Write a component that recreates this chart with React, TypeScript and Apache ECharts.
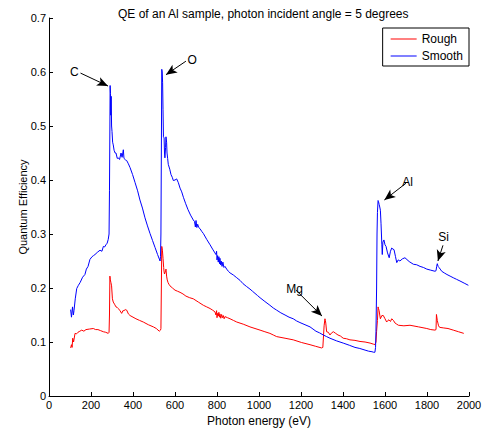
import React, { useEffect, useRef } from "react";
import * as echarts from "echarts";

const xTicks = [0, 200, 400, 600, 800, 1000, 1200, 1400, 1600, 1800, 2000];
const yTicks = [0, 0.1, 0.2, 0.3, 0.4, 0.5, 0.6, 0.7];

const smoothEnergy = [
  103, 107, 112, 116, 119, 125, 132, 140, 148, 160, 171, 178, 186, 195, 205, 212, 219, 230, 243, 252, 259, 265, 271, 277, 282, 286, 288, 290, 291, 293, 294, 296, 298, 300, 303, 306, 310, 315, 319, 325, 330, 336, 343, 348, 354, 357, 360, 365, 370, 378, 386, 398, 410, 422, 433, 445, 457, 469, 481, 493, 505, 517, 529, 531, 533, 535, 537, 539, 541, 543, 545, 548, 550, 552, 555, 557, 560, 562, 565, 568, 575, 581, 587, 592, 600, 608, 616, 624, 632, 640, 651, 662, 674, 687, 693, 697, 700, 704, 708, 713, 719, 727, 735, 751, 767, 779, 790, 795, 798, 800, 803, 806, 809, 812, 814, 817, 820, 824, 828, 833, 838, 846, 854, 862, 878, 894, 910, 924, 940, 957, 969, 981, 993, 1005, 1028, 1052, 1068, 1084, 1104, 1124, 1143, 1163, 1179, 1195, 1219, 1243, 1257, 1271, 1288, 1306, 1322, 1338, 1370, 1401, 1430, 1457, 1480, 1505, 1522, 1538, 1546, 1552, 1555, 1557, 1560, 1562, 1564, 1567, 1569, 1572, 1575, 1578, 1581, 1583, 1585, 1587, 1590, 1595, 1600, 1605, 1612, 1620, 1626, 1632, 1638, 1643, 1650, 1656, 1663, 1671, 1683, 1695, 1715, 1735, 1751, 1767, 1783, 1799, 1818, 1838, 1843, 1846, 1849, 1853, 1857, 1863, 1870, 1882, 1895, 1910, 1925, 1941, 1957, 1977, 1997,
];
const smoothQE = [
  0.16, 0.146, 0.165, 0.15, 0.158, 0.18, 0.199, 0.205, 0.21, 0.22, 0.225, 0.235, 0.24, 0.253, 0.258, 0.26, 0.262, 0.266, 0.27, 0.268, 0.277, 0.276, 0.28, 0.283, 0.29, 0.3, 0.38, 0.5, 0.575, 0.56, 0.52, 0.555, 0.5, 0.49, 0.47, 0.465, 0.455, 0.45, 0.45, 0.44, 0.441, 0.438, 0.45, 0.442, 0.456, 0.44, 0.44, 0.437, 0.436, 0.43, 0.423, 0.41, 0.395, 0.38, 0.363, 0.348, 0.33, 0.315, 0.301, 0.288, 0.275, 0.262, 0.25, 0.258, 0.3, 0.45, 0.605, 0.6, 0.58, 0.53, 0.48, 0.478, 0.45, 0.441, 0.46, 0.48, 0.47, 0.45, 0.44, 0.429, 0.42, 0.41, 0.405, 0.399, 0.4, 0.402, 0.395, 0.385, 0.378, 0.368, 0.356, 0.345, 0.335, 0.326, 0.323, 0.313, 0.325, 0.312, 0.318, 0.312, 0.31, 0.305, 0.301, 0.29, 0.28, 0.272, 0.265, 0.262, 0.268, 0.252, 0.26, 0.248, 0.258, 0.245, 0.255, 0.243, 0.25, 0.24, 0.248, 0.238, 0.24, 0.235, 0.231, 0.228, 0.224, 0.219, 0.214, 0.208, 0.203, 0.198, 0.194, 0.19, 0.186, 0.182, 0.175, 0.168, 0.163, 0.159, 0.154, 0.15, 0.146, 0.143, 0.139, 0.136, 0.132, 0.128, 0.124, 0.12, 0.117, 0.113, 0.11, 0.107, 0.102, 0.098, 0.094, 0.09, 0.088, 0.085, 0.083, 0.082, 0.081, 0.081, 0.09, 0.12, 0.2, 0.3, 0.34, 0.362, 0.36, 0.355, 0.35, 0.344, 0.32, 0.3, 0.28, 0.262, 0.285, 0.289, 0.28, 0.277, 0.265, 0.256, 0.268, 0.274, 0.272, 0.271, 0.258, 0.247, 0.252, 0.25, 0.254, 0.256, 0.249, 0.244, 0.243, 0.24, 0.238, 0.235, 0.233, 0.231, 0.232, 0.24, 0.245, 0.24, 0.238, 0.235, 0.231, 0.228, 0.225, 0.222, 0.219, 0.216, 0.213, 0.209, 0.205,
];

const roughEnergy = [
  103, 107, 110, 113, 117, 124, 131, 138, 147, 156, 166, 176, 193, 211, 222, 233, 246, 259, 270, 282, 286, 288, 290, 292, 295, 298, 302, 306, 312, 319, 325, 330, 338, 346, 352, 357, 363, 370, 378, 386, 400, 414, 431, 449, 473, 497, 511, 525, 531, 533, 535, 537, 540, 543, 546, 548, 550, 552, 555, 557, 560, 563, 567, 571, 576, 588, 600, 612, 624, 638, 652, 670, 687, 711, 735, 751, 767, 779, 790, 795, 798, 800, 803, 806, 809, 812, 814, 818, 822, 826, 830, 834, 838, 850, 862, 878, 894, 925, 957, 981, 1005, 1028, 1052, 1068, 1084, 1124, 1163, 1203, 1243, 1270, 1298, 1304, 1307, 1310, 1314, 1316, 1318, 1322, 1330, 1338, 1346, 1354, 1365, 1376, 1388, 1401, 1417, 1433, 1457, 1481, 1505, 1529, 1545, 1552, 1555, 1557, 1560, 1564, 1567, 1569, 1572, 1575, 1578, 1585, 1592, 1600, 1608, 1614, 1619, 1626, 1632, 1640, 1648, 1656, 1664, 1690, 1719, 1760, 1799, 1818, 1838, 1843, 1845, 1849, 1852, 1855, 1858, 1862, 1880, 1900, 1925, 1950, 1975, 1997,
];
const roughQE = [
  0.089, 0.095, 0.09, 0.107, 0.1, 0.116, 0.115, 0.118, 0.12, 0.122, 0.12, 0.123, 0.124, 0.125, 0.123, 0.123, 0.121, 0.119, 0.118, 0.116, 0.118, 0.15, 0.222, 0.215, 0.21, 0.204, 0.18, 0.174, 0.17, 0.165, 0.164, 0.162, 0.158, 0.153, 0.158, 0.158, 0.16, 0.159, 0.152, 0.149, 0.146, 0.143, 0.14, 0.137, 0.132, 0.128, 0.125, 0.12, 0.122, 0.125, 0.2, 0.277, 0.27, 0.255, 0.238, 0.23, 0.226, 0.228, 0.232, 0.235, 0.222, 0.215, 0.21, 0.207, 0.204, 0.2, 0.196, 0.194, 0.192, 0.189, 0.185, 0.182, 0.18, 0.174, 0.168, 0.165, 0.162, 0.159, 0.156, 0.15, 0.158, 0.145, 0.153, 0.148, 0.155, 0.146, 0.152, 0.144, 0.151, 0.145, 0.149, 0.143, 0.147, 0.145, 0.143, 0.14, 0.137, 0.133, 0.128, 0.125, 0.122, 0.119, 0.116, 0.113, 0.11, 0.107, 0.104, 0.099, 0.095, 0.092, 0.089, 0.09, 0.09, 0.13, 0.143, 0.14, 0.135, 0.119, 0.118, 0.113, 0.117, 0.119, 0.116, 0.113, 0.111, 0.107, 0.106, 0.104, 0.103, 0.101, 0.1, 0.098, 0.096, 0.095, 0.095, 0.1, 0.12, 0.14, 0.165, 0.162, 0.158, 0.15, 0.143, 0.149, 0.149, 0.143, 0.137, 0.14, 0.141, 0.138, 0.143, 0.14, 0.135, 0.133, 0.131, 0.13, 0.131, 0.128, 0.125, 0.123, 0.122, 0.123, 0.151, 0.14, 0.135, 0.13, 0.128, 0.127, 0.126, 0.125, 0.122, 0.119, 0.116,
];

// annotation: label, tail [energy, QE], head [energy, QE]
const annLabels = ["C", "O", "Mg", "Al", "Si"];
const annTails = [
  [150, 0.598],
  [652, 0.62],
  [1176, 0.196],
  [1700, 0.394],
  [1876, 0.279],
];
const annHeads = [
  [281, 0.574],
  [557, 0.595],
  [1300, 0.148],
  [1597, 0.363],
  [1852, 0.25],
];

const FONT = "Liberation Sans, Arial, Helvetica, sans-serif";

export default function App() {
  const ref = useRef<HTMLDivElement>(null);
  useEffect(() => {
    if (!ref.current) return;
    const chart = echarts.init(ref.current, undefined, { renderer: "svg" });
    const smoothData = smoothEnergy.map((e, i) => [e, smoothQE[i]]);
    const roughData = roughEnergy.map((e, i) => [e, roughQE[i]]);
    const markData = annLabels.map((lab, i) => [
      {
        coord: annTails[i],
        symbol: "none",
        label: {
          show: true,
          position: "start",
          formatter: lab,
          color: "#000",
          fontSize: 12,
          fontFamily: FONT,
          distance: 2,
        },
      },
      { coord: annHeads[i], symbol: "arrow", symbolSize: [7, 11] },
    ]);
    chart.setOption({
      animation: false,
      backgroundColor: "#fff",
      textStyle: { fontFamily: FONT },
      title: {
        text: "QE of an Al sample, photon incident angle = 5 degrees",
        left: 113,
        top: 3,
        textStyle: { fontSize: 12, fontWeight: "normal", color: "#000", fontFamily: FONT },
      },
      legend: {
        orient: "vertical",
        right: 18,
        top: 28,
        borderColor: "#000",
        borderWidth: 1,
        backgroundColor: "#fff",
        padding: [5, 6, 4, 8],
        itemGap: 5,
        itemWidth: 26,
        itemHeight: 1,
        icon: "rect",
        textStyle: { fontSize: 12, color: "#000", fontFamily: FONT },
        data: ["Rough", "Smooth"],
      },
      grid: { left: 49, right: 18, top: 18, bottom: 30, containLabel: false },
      xAxis: {
        type: "value",
        min: xTicks[0],
        max: xTicks[xTicks.length - 1],
        interval: 200,
        name: "Photon energy (eV)",
        nameLocation: "middle",
        nameGap: 19,
        nameMoveOverlap: false,
        nameTextStyle: { fontSize: 12, color: "#000", fontFamily: FONT },
        axisLine: { lineStyle: { color: "#000", width: 1 } },
        axisTick: { inside: true, length: 4, lineStyle: { color: "#000" } },
        axisLabel: {
          fontSize: 11,
          color: "#000",
          margin: 3,
          fontFamily: FONT,
          formatter: (v: number) => String(v),
        },
        splitLine: { show: false },
      },
      yAxis: {
        type: "value",
        min: yTicks[0],
        max: yTicks[yTicks.length - 1],
        interval: 0.1,
        name: "Quantum Efficiency",
        nameLocation: "middle",
        nameGap: 21,
        nameMoveOverlap: false,
        nameTextStyle: { fontSize: 11, color: "#000", fontFamily: FONT },
        axisLine: { show: true, lineStyle: { color: "#000", width: 1 } },
        axisTick: { show: true, inside: true, length: 4, lineStyle: { color: "#000" } },
        axisLabel: {
          fontSize: 11,
          color: "#000",
          margin: 3,
          fontFamily: FONT,
          formatter: (v: number) => (v === 0 ? "0" : v.toFixed(1)),
        },
        splitLine: { show: false },
      },
      series: [
        {
          name: "Rough",
          type: "line",
          data: roughData,
          symbol: "none",
          lineStyle: { color: "#ff0000", width: 1 },
          itemStyle: { color: "#ff0000" },
          z: 2,
        },
        {
          name: "Smooth",
          type: "line",
          data: smoothData,
          symbol: "none",
          lineStyle: { color: "#0000ff", width: 1 },
          itemStyle: { color: "#0000ff" },
          z: 3,
          markLine: {
            silent: true,
            animation: false,
            lineStyle: { color: "#000", width: 1, type: "solid" },
            emphasis: { disabled: true },
            data: markData,
          },
        },
      ],
    });
    return () => chart.dispose();
  }, []);
  return (
    <div
      ref={ref}
      style={{ position: "fixed", left: 0, top: 0, width: 487, height: 432 }}
    />
  );
}
